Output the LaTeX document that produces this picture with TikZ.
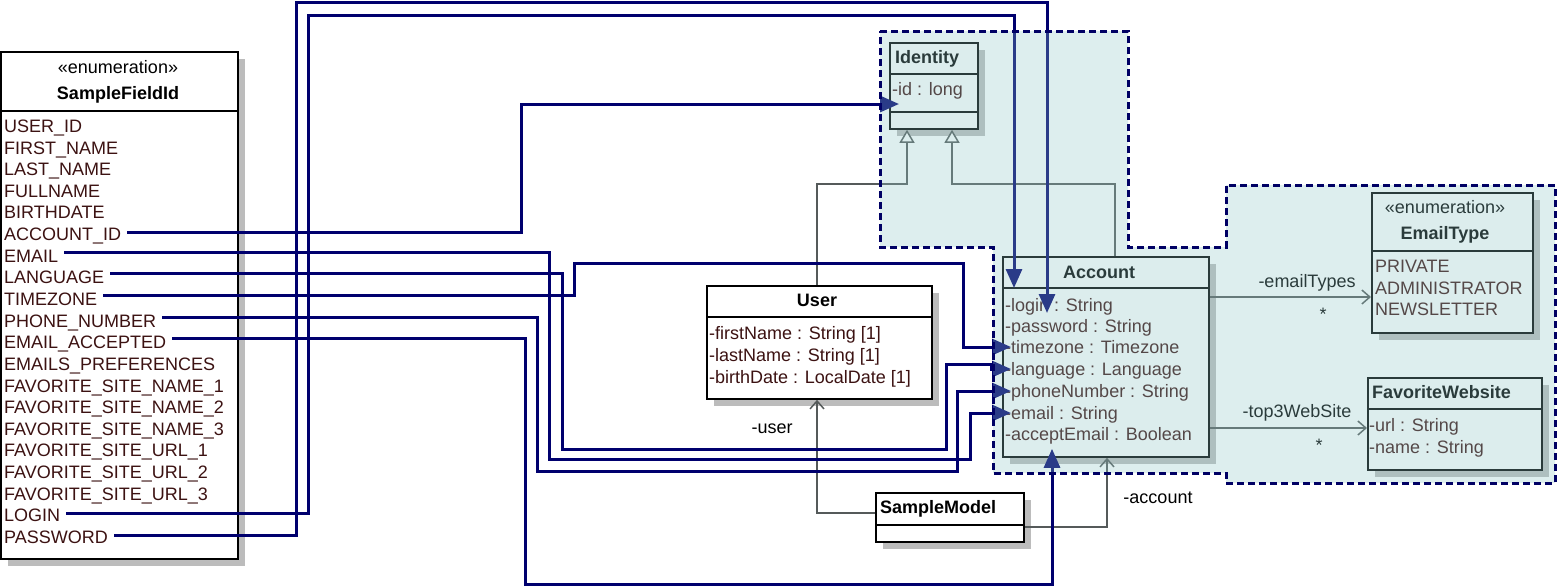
\documentclass[tikz,border=0pt]{standalone}
\usepackage{fontspec}
\setmainfont{Liberation Sans}
\usetikzlibrary{arrows.meta,shadows}
\definecolor{navyl}{RGB}{0,0,110}
\definecolor{itemc}{RGB}{60,18,18}
\definecolor{shad}{RGB}{188,188,188}
\definecolor{assoc}{RGB}{85,90,90}
\definecolor{pkgfill}{RGB}{142,198,198}
\definecolor{pkgline}{RGB}{0,0,100}
\begin{document}
\begin{tikzpicture}[x=1pt,y=-1pt,
  font=\fontsize{18}{21.6}\selectfont,
  every node/.style={inner sep=0pt, text height=12.9pt, text depth=0pt},
  cls/.style={draw=black, line width=1.8pt, fill=white, anchor=north west,
    drop shadow={shadow xshift=7pt, shadow yshift=-7pt, fill=shad, opacity=1}},
  sepline/.style={draw=black, line width=1.8pt},
  item/.style={anchor=west, text=itemc},
  cname/.style={font=\fontsize{18}{21.6}\selectfont\bfseries, text=black},
  stereo/.style={text=black},
  lbl/.style={text=black},
  link/.style={draw=navyl, line width=3pt, -{Triangle[length=19pt, width=16pt]}},
  gen/.style={draw=assoc, line width=1.5pt, -{Triangle[length=13pt, width=15pt, fill=white]}},
  asc/.style={draw=assoc, line width=1.5pt, -{Straight Barb[length=8pt, width=14pt]}},
  pkgborder/.style={draw=pkgline, line width=3pt, dash pattern=on 7pt off 4pt}
]
\useasboundingbox (0,0) rectangle (1557,587);

% ---------- classes ----------
\node[cls, minimum width=237pt, minimum height=507pt] (sfi) at (0,51) {};
\draw[sepline] (0,111) -- (237,111);
\node[stereo] (sfist) at (118,67) {«enumeration»};
\node[cname] (sfinm) at (118,93) {SampleFieldId};
\foreach \t [count=\i] in {USER\_ID, FIRST\_NAME, LAST\_NAME, FULLNAME, BIRTHDATE,
  ACCOUNT\_ID, EMAIL, LANGUAGE, TIMEZONE, PHONE\_NUMBER, EMAIL\_ACCEPTED,
  EMAILS\_PREFERENCES, FAVORITE\_SITE\_NAME\_1, FAVORITE\_SITE\_NAME\_2,
  FAVORITE\_SITE\_NAME\_3, FAVORITE\_SITE\_URL\_1, FAVORITE\_SITE\_URL\_2,
  FAVORITE\_SITE\_URL\_3, LOGIN, PASSWORD}
  \node[item] (sf\i) at (4,{126+(\i-1)*21.63}) {\t};

\node[cls, minimum width=88pt, minimum height=86pt] (idb) at (889,42) {};
\draw[sepline] (889,74) -- (977,74);
\draw[sepline] (889,112) -- (977,112);
\node[cname, anchor=west] (idnm) at (895,57) {Identity};
\node[item] (id1) at (892,89) {-id : long};

\node[cls, minimum width=206pt, minimum height=200pt] (acc) at (1002,256) {};
\draw[sepline] (1002,288) -- (1208,288);
\coordinate (accsep) at (1002,288);
\node[cname] (accnm) at (1099,272) {Account};
\foreach \t/\yy [count=\i] in {-login : String/305, -password : String/326,
  -timezone : Timezone/347, -language : Language/369, -phoneNumber : String/391,
  -email : String/413, -acceptEmail : Boolean/434}
  \node[item] (a\i) at (1005,\yy) {\t};

\node[cls, minimum width=161pt, minimum height=140pt] (ety) at (1371,192) {};
\draw[sepline] (1371,251) -- (1532,251);
\node[stereo] (etyst) at (1445,207) {«enumeration»};
\node[cname] (etynm) at (1445,233) {EmailType};
\node[item] (e1) at (1375,266) {PRIVATE};
\node[item] (e2) at (1375,288) {ADMINISTRATOR};
\node[item] (e3) at (1375,309) {NEWSLETTER};

\node[cls, minimum width=174pt, minimum height=92pt] (fws) at (1367,377) {};
\draw[sepline] (1367,409) -- (1541,409);
\node[cname, anchor=west] (fwsnm) at (1372,392) {FavoriteWebsite};
\node[item] (f1) at (1369,425) {-url : String};
\node[item] (f2) at (1369,447) {-name : String};

\node[cls, minimum width=225pt, minimum height=113pt] (usr) at (706,285) {};
\draw[sepline] (706,317) -- (931,317);
\node[cname] (usrnm) at (817,300) {User};
\node[item] (u1) at (709,333) {-firstName : String [1]};
\node[item] (u2) at (709,355) {-lastName : String [1]};
\node[item] (u3) at (709,377) {-birthDate : LocalDate [1]};

\node[cls, minimum width=148pt, minimum height=49pt] (smd) at (875,492) {};
\draw[sepline] (875,525) -- (1023,525);
\node[cname, anchor=west] (smdnm) at (880,507) {SampleModel};

% ---------- UML relations ----------
\draw[gen] (817,0 |- usr.north) |- (907,184) -- (907,0 |- idb.south);
\draw[gen] (1115,0 |- acc.north) |- (952,184) -- (952,0 |- idb.south);
\draw[asc] (smd.west |- 0,513) -| (817,0 |- usr.south);
\draw[asc] (smd.east |- 0,527) -| (1107,0 |- acc.south);
\draw[asc] (acc.east |- 0,297) -- (ety.west |- 0,297);
\draw[asc] (acc.east |- 0,428) -- (fws.west |- 0,428);
\node[lbl] (lu) at (772,427) {-user};
\node[lbl] (la) at (1158,497) {-account};
\node[lbl] (le) at (1307,281) {-emailTypes};
\node[lbl] (les) at (1323,314) {*};
\node[lbl] (lt) at (1297,411) {-top3WebSite};
\node[lbl] (lts) at (1319,445) {*};

% ---------- field mapping links ----------
\draw[link, shorten <=6pt, shorten >=-10pt] (sf6.east |- 0,232) -| (521,104) -- (idb.west |- 0,104);
\draw[link, shorten <=6pt, shorten >=-9pt] (sf7.east |- 0,252) -| (549,459) -| (970,413) -- (acc.west |- a6);
\draw[link, shorten <=6pt, shorten >=-9pt] (sf8.east |- 0,273) -| (562,449) -| (946,364) -| (991,369) -- (acc.west |- a4);
\draw[link, shorten <=6pt, shorten >=-9pt] (sf9.east |- 0,295) -| (574,263) -| (963,347) -- (acc.west |- a3);
\draw[link, shorten <=6pt, shorten >=-9pt] (sf10.east |- 0,317) -| (537,471) -| (957,391) -- (acc.west |- a5);
\draw[link, shorten <=6pt, shorten >=-9pt] (sf11.east |- 0,338) -| (525,584) -| (1052,0 |- acc.south);
\draw[link, shorten <=6pt] (sf19.east |- 0,513) -| (308,15) -| (1014,0 |- accsep);
\draw[link, shorten <=6pt, shorten >=-8pt] (sf20.east |- 0,535) -| (296,2) -| (1047,0 |- a1);

% ---------- package overlay ----------
\fill[pkgfill, fill opacity=0.3] (880,31) -- (1128,31) -- (1128,247) -- (1226,247) -- (1226,185)
  -- (1555,185) -- (1555,483) -- (1226,483) -- (1226,473) -- (993,473) -- (993,247) -- (880,247) -- cycle;
\draw[pkgborder] (880,31) -- (1128,31) -- (1128,247) -- (1226,247) -- (1226,185)
  -- (1555,185) -- (1555,483) -- (1226,483) -- (1226,473) -- (993,473) -- (993,247) -- (880,247) -- cycle;
\end{tikzpicture}
\end{document}
